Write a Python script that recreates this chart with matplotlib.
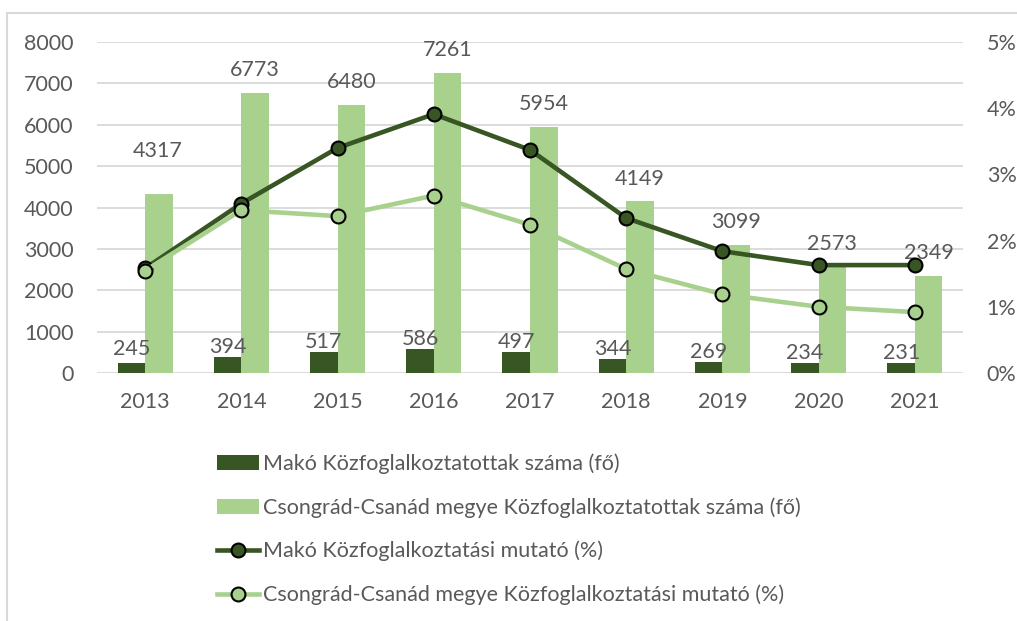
import matplotlib
matplotlib.use("Agg")
import matplotlib.pyplot as plt
from matplotlib.lines import Line2D
from matplotlib.patches import Patch
from matplotlib.ticker import FuncFormatter
import numpy as np

years = ["2013", "2014", "2015", "2016", "2017", "2018", "2019", "2020", "2021"]
mako_fo = [245, 394, 517, 586, 497, 344, 269, 234, 231]
megye_fo = [4317, 6773, 6480, 7261, 5954, 4149, 3099, 2573, 2349]
mako_pct = [1.58, 2.56, 3.40, 3.91, 3.37, 2.34, 1.84, 1.63, 1.63]
megye_pct = [1.545, 2.46, 2.37, 2.68, 2.24, 1.57, 1.19, 1.00, 0.92]

labels = [
    "Makó Közfoglalkoztatottak száma (fő)",
    "Csongrád-Csanád megye Közfoglalkoztatottak száma (fő)",
    "Makó Közfoglalkoztatási mutató (%)",
    "Csongrád-Csanád megye Közfoglalkoztatási mutató (%)",
]

DARK = "#375623"
LIGHT = "#A9D18E"
TXT = "#595959"
GRID = "#D9D9D9"
FS = 15.5

plt.rcParams["font.family"] = ["Lato", "DejaVu Sans"]

fig = plt.figure(figsize=(10.17, 6.21), dpi=100)
ax = fig.add_axes([97 / 1017, 1 - 373 / 621, (963 - 97) / 1017, (373 - 42) / 621])
ax2 = ax.twinx()

x = np.arange(len(years))
w = 0.286
b1 = ax.bar(x - w / 2, mako_fo, w, color=DARK, zorder=2)
b2 = ax.bar(x + w / 2, megye_fo, w, color=LIGHT, zorder=2)

for i, r in enumerate(b1):
    ax.annotate(str(mako_fo[i]), (r.get_x() + r.get_width() / 2, r.get_height()),
                xytext=(0, 0 + (3 if i == 0 else 0)), textcoords="offset points",
                ha="center", va="bottom", fontsize=FS, color=TXT)
for i, r in enumerate(b2):
    ax.annotate(str(megye_fo[i]), (r.get_x() + r.get_width() / 2, r.get_height()),
                xytext=(-1 if i == 0 else 0, 9 + (15 if i == 0 else 0)), textcoords="offset points",
                ha="center", va="bottom", fontsize=FS, color=TXT)

ax.set_ylim(0, 8000)
ax.set_yticks(range(0, 8001, 1000))
ax.set_xlim(-0.5, len(years) - 0.5)
ax.set_xticks(x)
ax.set_xticklabels(years)
ax.grid(axis="y", color=GRID, linewidth=1.3, zorder=0)
ax.set_axisbelow(True)
for s in ax.spines.values():
    s.set_visible(False)
ax.tick_params(axis="both", length=0, labelsize=FS, labelcolor=TXT)
ax.tick_params(axis="y", pad=17)
ax.tick_params(axis="x", pad=14)

ax2.plot(x, mako_pct, color=DARK, linewidth=3.3, marker="o", markersize=10,
         markerfacecolor=DARK, markeredgecolor="black", markeredgewidth=1.5, zorder=3)
ax2.plot(x, megye_pct, color=LIGHT, linewidth=3.3, marker="o", markersize=10,
         markerfacecolor=LIGHT, markeredgecolor="black", markeredgewidth=1.5, zorder=3)
ax2.set_ylim(0, 5)
ax2.set_yticks(range(0, 6))
ax2.yaxis.set_major_formatter(FuncFormatter(lambda v, p: f"{v:.0f}%"))
for s in ax2.spines.values():
    s.set_visible(False)
ax2.tick_params(axis="y", length=0, labelsize=FS, labelcolor=TXT, pad=17)

handles = [
    Patch(facecolor=DARK),
    Patch(facecolor=LIGHT),
    Line2D([], [], color=DARK, linewidth=3.3, marker="o", markersize=10,
           markerfacecolor=DARK, markeredgecolor="black", markeredgewidth=1.5),
    Line2D([], [], color=LIGHT, linewidth=3.3, marker="o", markersize=10,
           markerfacecolor=LIGHT, markeredgecolor="black", markeredgewidth=1.5),
]
leg = fig.legend(handles, labels, loc="upper left", bbox_to_anchor=(208 / 1017, 1 - 445 / 621),
                 frameon=False, fontsize=FS, labelcolor=TXT, handlelength=1.95,
                 handletextpad=0.2, labelspacing=1.07, borderaxespad=0)

# chart border (only top and left visible in the crop)
fig.add_artist(Line2D([7 / 1017, 1], [1 - 13 / 621] * 2, color=GRID, linewidth=1.5))
fig.add_artist(Line2D([7 / 1017] * 2, [0, 1 - 13 / 621], color=GRID, linewidth=1.5))

fig.savefig("out.png", dpi=100)
